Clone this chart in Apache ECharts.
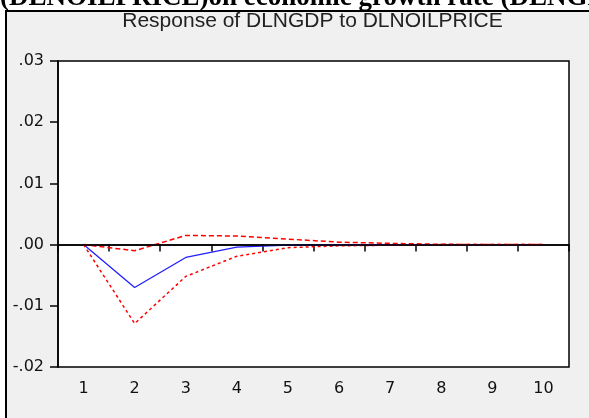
<!DOCTYPE html>
<html><head><meta charset="utf-8">
<script src="https://cdn.jsdelivr.net/npm/echarts@6/dist/echarts.min.js"></script>
<style>html,body{margin:0;padding:0;background:#fff}#c{width:589px;height:418px}</style>
</head><body><div id="c"></div>
<script>
const periods = ['1','2','3','4','5','6','7','8','9','10'];
const response = [0, -0.0070, -0.0021, -0.0004, -0.0001, 0.0000, 0, 0, 0, 0];
const upperBand = [0, -0.0010, 0.0015, 0.0014, 0.0009, 0.0004, 0.0002, 0.00005, 0, 0];
const lowerBand = [0, -0.0129, -0.0052, -0.0019, -0.0005, -0.0002, -0.0001, 0, 0, 0];
const yMin = -0.02, yMax = 0.03, yStep = 0.01;
const chartTitle = 'Response of DLNGDP to DLNOILPRICE';
const captionText = '(DLNOILPRICE)on economic growth rate (DLNGDP)';

const chart = echarts.init(document.getElementById('c'), null, {renderer:'canvas'});
const fmt = v => { let s = (Math.round(v*100)/100).toFixed(2); if (s === '-0.00') s = '0.00'; return s.replace('0.', '.'); };
chart.setOption({
  animation: false,
  backgroundColor: '#f0f0f0',
  graphic: [
    {type:'rect', shape:{x:0,y:0,width:589,height:10}, style:{fill:'#fff'}, silent:true},
    {type:'rect', shape:{x:0,y:0,width:5,height:418}, style:{fill:'#fff'}, silent:true},
    {type:'rect', shape:{x:5,y:10,width:584,height:2}, style:{fill:'#000'}, silent:true},
    {type:'rect', shape:{x:5,y:10,width:2,height:408}, style:{fill:'#000'}, silent:true},
    {type:'text', x:0, y:-2, style:{text:captionText, font:'bold 27px "Liberation Serif"', fill:'#000', textAlign:'left', textVerticalAlign:'middle'}, silent:true},
    {type:'text', x:312.5, y:21, style:{text:chartTitle, font:'21px "Liberation Sans"', fill:'#222', textAlign:'center', textVerticalAlign:'middle'}, silent:true}
  ],
  grid: {left:58, right:20, top:61, bottom:51, show:true, backgroundColor:'#fff', borderColor:'#000', borderWidth:1.5},
  xAxis: {
    type:'category', data:periods, boundaryGap:true,
    axisLine:{show:true, lineStyle:{color:'#000', width:1.5}},
    axisTick:{show:true, inside:false, length:7, alignWithLabel:false, lineStyle:{color:'#000', width:1.5}},
    axisLabel:{color:'#111', fontSize:16, fontFamily:'DejaVu Sans', margin:14},
    splitLine:{show:false}
  },
  yAxis: {
    type:'value', min:yMin, max:yMax, interval:yStep,
    axisLine:{show:true, lineStyle:{color:'#000', width:1.5}},
    axisTick:{show:true, inside:false, length:8, lineStyle:{color:'#000', width:1.5}},
    axisLabel:{color:'#111', fontSize:16, fontFamily:'DejaVu Sans', margin:14, formatter:fmt},
    splitLine:{show:false}
  },
  series: [
    {type:'line', name:'Response', data:response, symbol:'none', z:3,
     lineStyle:{color:'#2020ff', width:1.3},
     markLine:{silent:true, symbol:'none', label:{show:false}, data:[{yAxis:0}], lineStyle:{color:'#000', width:1.5, type:'solid'}}},
    {type:'line', name:'+2 S.E.', data:upperBand, symbol:'none', z:4,
     lineStyle:{color:'#ff0000', width:1.5, type:[5,3]}},
    {type:'line', name:'-2 S.E.', data:lowerBand, symbol:'none', z:4,
     lineStyle:{color:'#ff0000', width:1.5, type:[3,3]}}
  ]
});
</script></body></html>
